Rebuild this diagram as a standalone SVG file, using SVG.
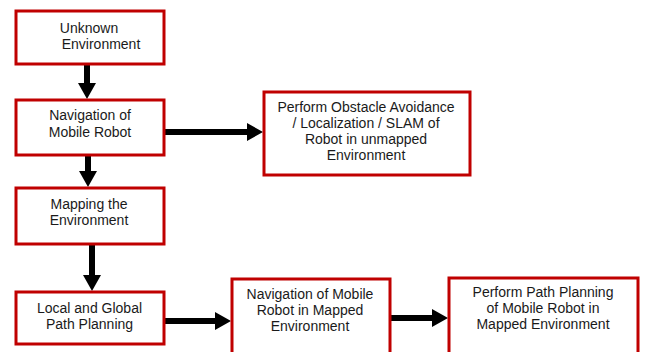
<svg xmlns="http://www.w3.org/2000/svg" width="645" height="352" viewBox="0 0 645 352">
  <style>
    .box { fill: #ffffff; stroke: #c00000; stroke-width: 3; }
    .lbl { font-family: "Liberation Sans", Arial, sans-serif; font-size: 14px; fill: #1a1a1a; text-anchor: middle; }
    .arrow { fill: #000000; }
  </style>
  <rect width="645" height="352" fill="#ffffff"/>

  <g id="connectors">
    <!-- Unknown Environment -> Navigation of Mobile Robot -->
    <polygon class="arrow" points="84,65 90,65 90,83 96,83 87,99 78,83 84,83"/>
    <!-- Navigation -> Mapping -->
    <polygon class="arrow" points="85,156 91,156 91,171 97,171 88,187 79,171 85,171"/>
    <!-- Mapping -> Local and Global Path Planning -->
    <polygon class="arrow" points="89,245 95,245 95,275 101,275 92,291 83,275 89,275"/>
    <!-- Navigation -> Obstacle Avoidance / SLAM -->
    <polygon class="arrow" points="165,129 247,129 247,123 263,132 247,141 247,135 165,135"/>
    <!-- Path Planning -> Navigation in Mapped Environment -->
    <polygon class="arrow" points="165,318 215,318 215,312 231,321 215,330 215,324 165,324"/>
    <!-- Navigation in Mapped Environment -> Path Planning of Mobile Robot -->
    <polygon class="arrow" points="391,315 432,315 432,309 448,318 432,327 432,321 391,321"/>
  </g>

  <g id="unknown-environment">
    <rect class="box" x="16" y="11" width="148" height="53"/>
    <text class="lbl" x="89" y="33">Unknown</text>
    <text class="lbl" x="101" y="49">Environment</text>
  </g>

  <g id="navigation">
    <rect class="box" x="16" y="100" width="148" height="55"/>
    <text class="lbl" x="90" y="120">Navigation of</text>
    <text class="lbl" x="90" y="137">Mobile Robot</text>
  </g>

  <g id="obstacle-avoidance">
    <rect class="box" x="264" y="92" width="206" height="83"/>
    <text class="lbl" x="366" y="112">Perform Obstacle Avoidance</text>
    <text class="lbl" x="366" y="128">/ Localization / SLAM of</text>
    <text class="lbl" x="366" y="144">Robot in unmapped</text>
    <text class="lbl" x="366" y="160">Environment</text>
  </g>

  <g id="mapping">
    <rect class="box" x="16" y="188" width="148" height="56"/>
    <text class="lbl" x="89" y="209">Mapping the</text>
    <text class="lbl" x="89" y="225">Environment</text>
  </g>

  <g id="path-planning">
    <rect class="box" x="16" y="292" width="148" height="52"/>
    <text class="lbl" x="89.5" y="313">Local and Global</text>
    <text class="lbl" x="89.5" y="329">Path Planning</text>
  </g>

  <g id="mapped-navigation">
    <rect class="box" x="232" y="279" width="158" height="90"/>
    <text class="lbl" x="310" y="299">Navigation of Mobile</text>
    <text class="lbl" x="310" y="315">Robot in Mapped</text>
    <text class="lbl" x="310" y="331">Environment</text>
  </g>

  <g id="mapped-path-planning">
    <rect class="box" x="449" y="278" width="189" height="90"/>
    <text class="lbl" x="543" y="297">Perform Path Planning</text>
    <text class="lbl" x="543" y="313">of Mobile Robot in</text>
    <text class="lbl" x="543" y="329">Mapped Environment</text>
  </g>
</svg>
